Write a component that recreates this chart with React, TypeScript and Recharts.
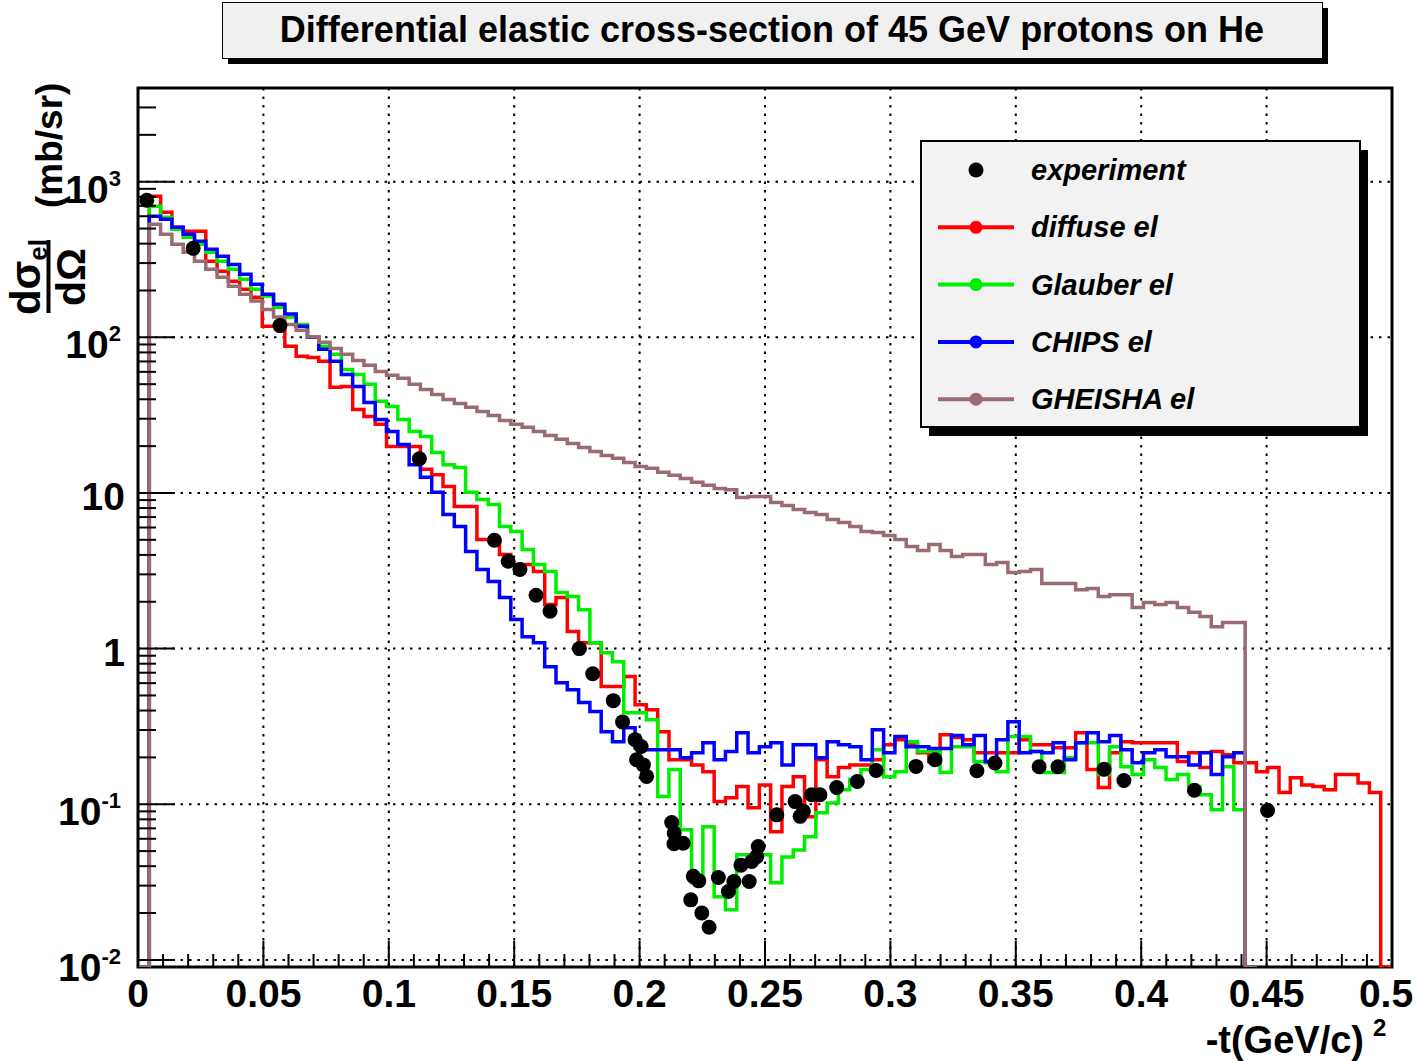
import React from 'react';
import { ComposedChart, Line, Scatter, XAxis, YAxis, CartesianGrid, ReferenceArea } from 'recharts';

// histogram binning: 111 bins over 0 .. 0.5 (GeV/c)^2
const BIN_COUNT = 111;
const T_MAX = 0.5;
const Y_MIN = 0.009;
const Y_MAX = 4000;

// bin contents, mb/sr (0 = empty bin)
const diffuse = [
  0, 807, 637, 510, 481, 481, 308, 266, 229, 204,
  181, 118, 118, 87.5, 75.5, 74.3, 70.1, 47.7, 48.4, 34.4,
  31.0, 27.6, 19.9, 19.9, 19.9, 14.2, 13.1, 11.0, 8.19, 8.19,
  5.02, 5.02, 4.02, 3.47, 3.47, 3.13, 1.92, 2.13, 1.29, 1.09,
  1.09, 0.57, 0.57, 0.661, 0.436, 0.405, 0.292, 0.193, 0.193, 0.179,
  0.162, 0.104, 0.11, 0.13, 0.0949, 0.133, 0.0665, 0.13, 0.15, 0.0832,
  0.193, 0.15, 0.172, 0.179, 0.179, 0.193, 0.241, 0.26, 0.241, 0.214,
  0.188, 0.28, 0.268, 0.26, 0.214, 0.214, 0.214, 0.214, 0.26, 0.241,
  0.241, 0.231, 0.231, 0.288, 0.167, 0.128, 0.214, 0.252, 0.248, 0.248,
  0.248, 0.248, 0.188, 0.214, 0.172, 0.218, 0.208, 0.185, 0.185, 0.162,
  0.172, 0.119, 0.148, 0.133, 0.13, 0.124, 0.155, 0.155, 0.137, 0.119,
  0,
];

const glauber = [
  0, 695, 591, 495, 440, 396, 352, 308, 274, 236,
  204, 184, 156, 135, 121, 100, 87.5, 77.8, 62.2, 57.8,
  49.9, 38.8, 36.0, 29.7, 24.8, 23.1, 18.2, 15.2, 14.6, 10.1,
  9.08, 8.43, 6.09, 5.65, 4.33, 3.47, 3.13, 2.29, 2.16, 1.78,
  1.09, 0.942, 0.824, 0.387, 0.387, 0.349, 0.112, 0.167, 0.0685, 0.0313,
  0.0716, 0.0254, 0.021, 0.0473, 0.0473, 0.0473, 0.0313, 0.0459, 0.0509, 0.0618,
  0.0881, 0.102, 0.124, 0.144, 0.167, 0.224, 0.15, 0.162, 0.252, 0.218,
  0.218, 0.16, 0.234, 0.234, 0.188, 0.185, 0.162, 0.272, 0.272, 0.218,
  0.16, 0.16, 0.199, 0.248, 0.248, 0.155, 0.234, 0.174, 0.155, 0.193,
  0.172, 0.144, 0.155, 0.13, 0.115, 0.0923, 0.174, 0.0923, 0,
];

const chips = [
  0, 600, 574, 510, 459, 414, 368, 332, 294, 254,
  219, 189, 163, 141, 118, 100, 83.7, 70.1, 57.8, 48.4,
  38.2, 29.7, 24.8, 20.5, 15.2, 12.6, 10.1, 7.27, 6.09, 4.21,
  3.22, 2.7, 2.13, 1.54, 1.19, 1.09, 0.766, 0.604, 0.545, 0.45,
  0.394, 0.292, 0.252, 0.31, 0.231, 0.224, 0.224, 0.224, 0.199, 0.214,
  0.248, 0.193, 0.218, 0.288, 0.214, 0.234, 0.248, 0.179, 0.241, 0.241,
  0.199, 0.252, 0.241, 0.234, 0.193, 0.301, 0.214, 0.272, 0.234, 0.234,
  0.228, 0.228, 0.276, 0.241, 0.276, 0.188, 0.26, 0.339, 0.214, 0.218,
  0.214, 0.248, 0.193, 0.248, 0.288, 0.252, 0.276, 0.224, 0.185, 0.214,
  0.224, 0.202, 0.202, 0.179, 0.214, 0.155, 0.202, 0.214, 0,
];

const gheisha = [
  0, 533, 459, 396, 352, 308, 274, 243, 213, 189,
  171, 151, 135, 121, 111, 101, 92.9, 84.9, 77.8, 71.1,
  66.1, 60.4, 57.0, 54.5, 49.9, 46.3, 43.0, 39.9, 37.6, 35.5,
  33.4, 31.5, 29.2, 27.6, 26.4, 24.8, 23.4, 22.1, 20.8, 19.6,
  18.5, 17.4, 16.7, 15.7, 14.8, 14.4, 13.6, 13.0, 12.4, 11.7,
  11.2, 10.7, 10.5, 9.36, 9.49, 9.49, 8.69, 8.31, 7.83, 7.49,
  7.27, 6.76, 6.46, 6.09, 5.65, 5.57, 5.33, 5.02, 4.53, 4.27,
  4.67, 4.27, 3.91, 4.02, 4.02, 3.47, 3.57, 3.08, 3.13, 3.22,
  2.62, 2.62, 2.62, 2.39, 2.43, 2.16, 2.22, 2.22, 1.84, 1.98,
  1.92, 1.98, 1.84, 1.71, 1.61, 1.38, 1.47, 1.47, 0,
];

// experimental points
const expT = [
  0.0035, 0.022, 0.0566, 0.1122, 0.1421, 0.1476, 0.1523, 0.1587, 0.1643, 0.176,
  0.1813, 0.1895, 0.1932, 0.1982, 0.2006, 0.1988, 0.2015, 0.2028, 0.2128, 0.2138,
  0.2137, 0.2174, 0.2214, 0.2236, 0.2204, 0.2248, 0.2277, 0.2314, 0.2354, 0.2376,
  0.2404, 0.2437, 0.2447, 0.2467, 0.2473, 0.2547, 0.262, 0.264, 0.2653, 0.2686,
  0.2719, 0.2786, 0.2868, 0.2943, 0.3102, 0.3178, 0.3345, 0.3417, 0.3593, 0.3668,
  0.3852, 0.3931, 0.4212, 0.4504,
];
const expSigma = [
  760, 373, 119, 16.6, 4.97, 3.64, 3.22, 2.2, 1.74, 1.0,
  0.69, 0.463, 0.338, 0.26, 0.235, 0.193, 0.179, 0.151, 0.0764, 0.0653,
  0.0557, 0.0562, 0.0344, 0.0322, 0.0243, 0.02, 0.0162, 0.0338, 0.0275, 0.0319,
  0.0406, 0.0319, 0.0429, 0.0461, 0.0535, 0.0855, 0.104, 0.0836, 0.09, 0.115,
  0.115, 0.128, 0.14, 0.165, 0.175, 0.193, 0.164, 0.184, 0.174, 0.174,
  0.168, 0.142, 0.123, 0.0912,
];

const yMajorTicks = [0.01, 0.1, 1, 10, 100, 1000];
const yTickBase = ['10', '10', '1', '10', '10', '10'];
const yTickSup = ['-2', '-1', '', '', '2', '3'];
const xMajorTicks = [0, 0.05, 0.1, 0.15, 0.2, 0.25, 0.3, 0.35, 0.4, 0.45, 0.5];
const xTickLabels = ['0', '0.05', '0.1', '0.15', '0.2', '0.25', '0.3', '0.35', '0.4', '0.45', '0.5'];

const FONT = "'Liberation Sans', Arial, Helvetica, sans-serif";
const GHEISHA_COLOR = '#9a6b72';

const yMinorTicks = yMajorTicks.flatMap((d) => [2, 3, 4, 5, 6, 7, 8, 9].map((m) => m * d)).filter((v) => v < Y_MAX);
const yAllTicks = [...yMajorTicks, ...yMinorTicks].sort((a, b) => a - b);
const xAllTicks = Array.from({ length: 51 }, (_, i) => i / 100);
const xGrid = xMajorTicks.slice(1, -1);

function toSteps(values: number[]) {
  const w = T_MAX / BIN_COUNT;
  const pts = values.map((v, i) => ({ x: i * w, y: v > 0 ? v : Y_MIN }));
  pts.push({ x: values.length * w, y: Y_MIN });
  return pts;
}

const series = [
  { name: 'diffuse el', color: '#ff0000', pts: toSteps(diffuse) },
  { name: 'Glauber el', color: '#00ee00', pts: toSteps(glauber) },
  { name: 'CHIPS el', color: '#0000ff', pts: toSteps(chips) },
  { name: 'GHEISHA el', color: GHEISHA_COLOR, pts: toSteps(gheisha) },
];
const expPts = expT.map((t, i) => ({ x: t, y: expSigma[i] }));

function YTick(props: any) {
  const { x, y, payload } = props;
  const v = payload.value;
  const idx = yMajorTicks.findIndex((t) => Math.abs(t - v) / t < 1e-6);
  if (idx < 0) {
    return <line x1={x} x2={x + 18} y1={y} y2={y} stroke="#000" strokeWidth={2} />;
  }
  const sup = yTickSup[idx];
  return (
    <g>
      <line x1={x} x2={x + 37} y1={y} y2={y} stroke="#000" strokeWidth={2} />
      <text x={sup ? x - 17 : x - 13} y={y + (sup ? 21 : 17)} textAnchor="end" fontFamily={FONT} fontWeight="bold" fontSize={39} fill="#000">
        {yTickBase[idx]}
        {sup && <tspan dy={-17} fontSize={22}>{sup}</tspan>}
      </text>
    </g>
  );
}

function XTick(props: any) {
  const { x, y, payload } = props;
  const v = payload.value;
  const idx = xMajorTicks.findIndex((t) => Math.abs(t - v) < 1e-9);
  if (idx < 0) {
    return <line x1={x} x2={x} y1={y} y2={y - 13} stroke="#000" strokeWidth={2} />;
  }
  // last label sits on the window edge; keep it inside
  const tx = Math.min(x, 1386);
  return (
    <g>
      <line x1={x} x2={x} y1={y} y2={y - 26} stroke="#000" strokeWidth={2} />
      <text x={tx} y={y + 40} textAnchor="middle" fontFamily={FONT} fontWeight="bold" fontSize={39} fill="#000">
        {xTickLabels[idx]}
      </text>
    </g>
  );
}

function ExpDot(props: any) {
  return <circle cx={props.cx} cy={props.cy} r={7.5} fill="#000" />;
}

const legendRows = [
  { label: 'experiment', color: '#000', line: false },
  ...series.map((s) => ({ label: s.name, color: s.color, line: true })),
];

export default function App() {
  return (
    <div style={{ position: 'absolute', left: 0, top: 0, width: 1416, height: 1061, overflow: 'hidden', background: '#fff' }}>
      <ComposedChart width={1416} height={1061} margin={{ top: 88, right: 24, bottom: 14, left: 8 }}>
        <CartesianGrid
          horizontalValues={yMajorTicks}
          verticalValues={xGrid}
          stroke="#000"
          strokeDasharray="2.5 6"
          strokeWidth={2}
        />
        <XAxis
          dataKey="x"
          type="number"
          domain={[0, T_MAX]}
          ticks={xAllTicks}
          interval={0}
          tick={XTick}
          tickSize={0}
          tickMargin={0}
          axisLine={false}
          tickLine={false}
          height={80}
          allowDataOverflow
        />
        <YAxis
          dataKey="y"
          type="number"
          scale="log"
          domain={[Y_MIN, Y_MAX]}
          ticks={yAllTicks}
          interval={0}
          tick={YTick}
          tickSize={0}
          tickMargin={0}
          axisLine={false}
          tickLine={false}
          width={130}
          allowDataOverflow
        />
        {series.map((s) => (
          <Line
            key={s.name}
            data={s.pts}
            dataKey="y"
            type="stepAfter"
            stroke={s.color}
            strokeWidth={3.5}
            dot={false}
            activeDot={false}
            isAnimationActive={false}
          />
        ))}
        <Scatter data={expPts} dataKey="y" fill="#000" shape={ExpDot} isAnimationActive={false} />
        <ReferenceArea x1={0} x2={T_MAX} y1={Y_MIN} y2={Y_MAX} fill="none" stroke="#000" strokeWidth={3} />
      </ComposedChart>

      <svg width={1416} height={1061} style={{ position: 'absolute', left: 0, top: 0, pointerEvents: 'none' }}>
        {/* title */}
        <rect x={228} y={8} width={1100} height={56} fill="#000" />
        <rect x={222.5} y={2.5} width={1100} height={56} fill="#f0f0f0" stroke="#000" strokeWidth={1} />
        <text x={772} y={42} textAnchor="middle" fontFamily={FONT} fontWeight="bold" fontSize={36}>
          Differential elastic cross-section of 45 GeV protons on He
        </text>

        {/* legend */}
        <rect x={929} y={150} width={439} height={286} fill="#000" />
        <rect x={921} y={141} width={439} height={286} fill="#f2f2f2" stroke="#000" strokeWidth={2} />
        {legendRows.map((r, i) => {
          const cy = 170 + i * 57.3;
          return (
            <g key={r.label}>
              {r.line && <line x1={938} x2={1014} y1={cy} y2={cy} stroke={r.color} strokeWidth={4} />}
              <circle cx={976} cy={cy} r={r.line ? 6.5 : 7.5} fill={r.color} />
              <text x={1031} y={cy + 10} fontFamily={FONT} fontWeight="bold" fontStyle="italic" fontSize={29}>
                {r.label}
              </text>
            </g>
          );
        })}

        {/* y axis title */}
        <text transform="translate(62,208) rotate(-90)" fontFamily={FONT} fontWeight="bold" fontSize={37}>
          (mb/sr)
        </text>
        <text transform="translate(40,277) rotate(-90)" textAnchor="middle" fontFamily={FONT} fontWeight="bold" fontSize={42}>
          dσ<tspan dy={7} fontSize={26}>el</tspan>
        </text>
        <line x1={48.5} x2={48.5} y1={240} y2={313} stroke="#000" strokeWidth={4} />
        <text transform="translate(85,277) rotate(-90)" textAnchor="middle" fontFamily={FONT} fontWeight="bold" fontSize={41}>
          dΩ
        </text>

        {/* x axis title */}
        <text x={1364} y={1053} textAnchor="end" fontFamily={FONT} fontWeight="bold" fontSize={38}>
          -t(GeV/c)
        </text>
        <text x={1373} y={1036} fontFamily={FONT} fontWeight="bold" fontSize={24}>
          2
        </text>
      </svg>
    </div>
  );
}
